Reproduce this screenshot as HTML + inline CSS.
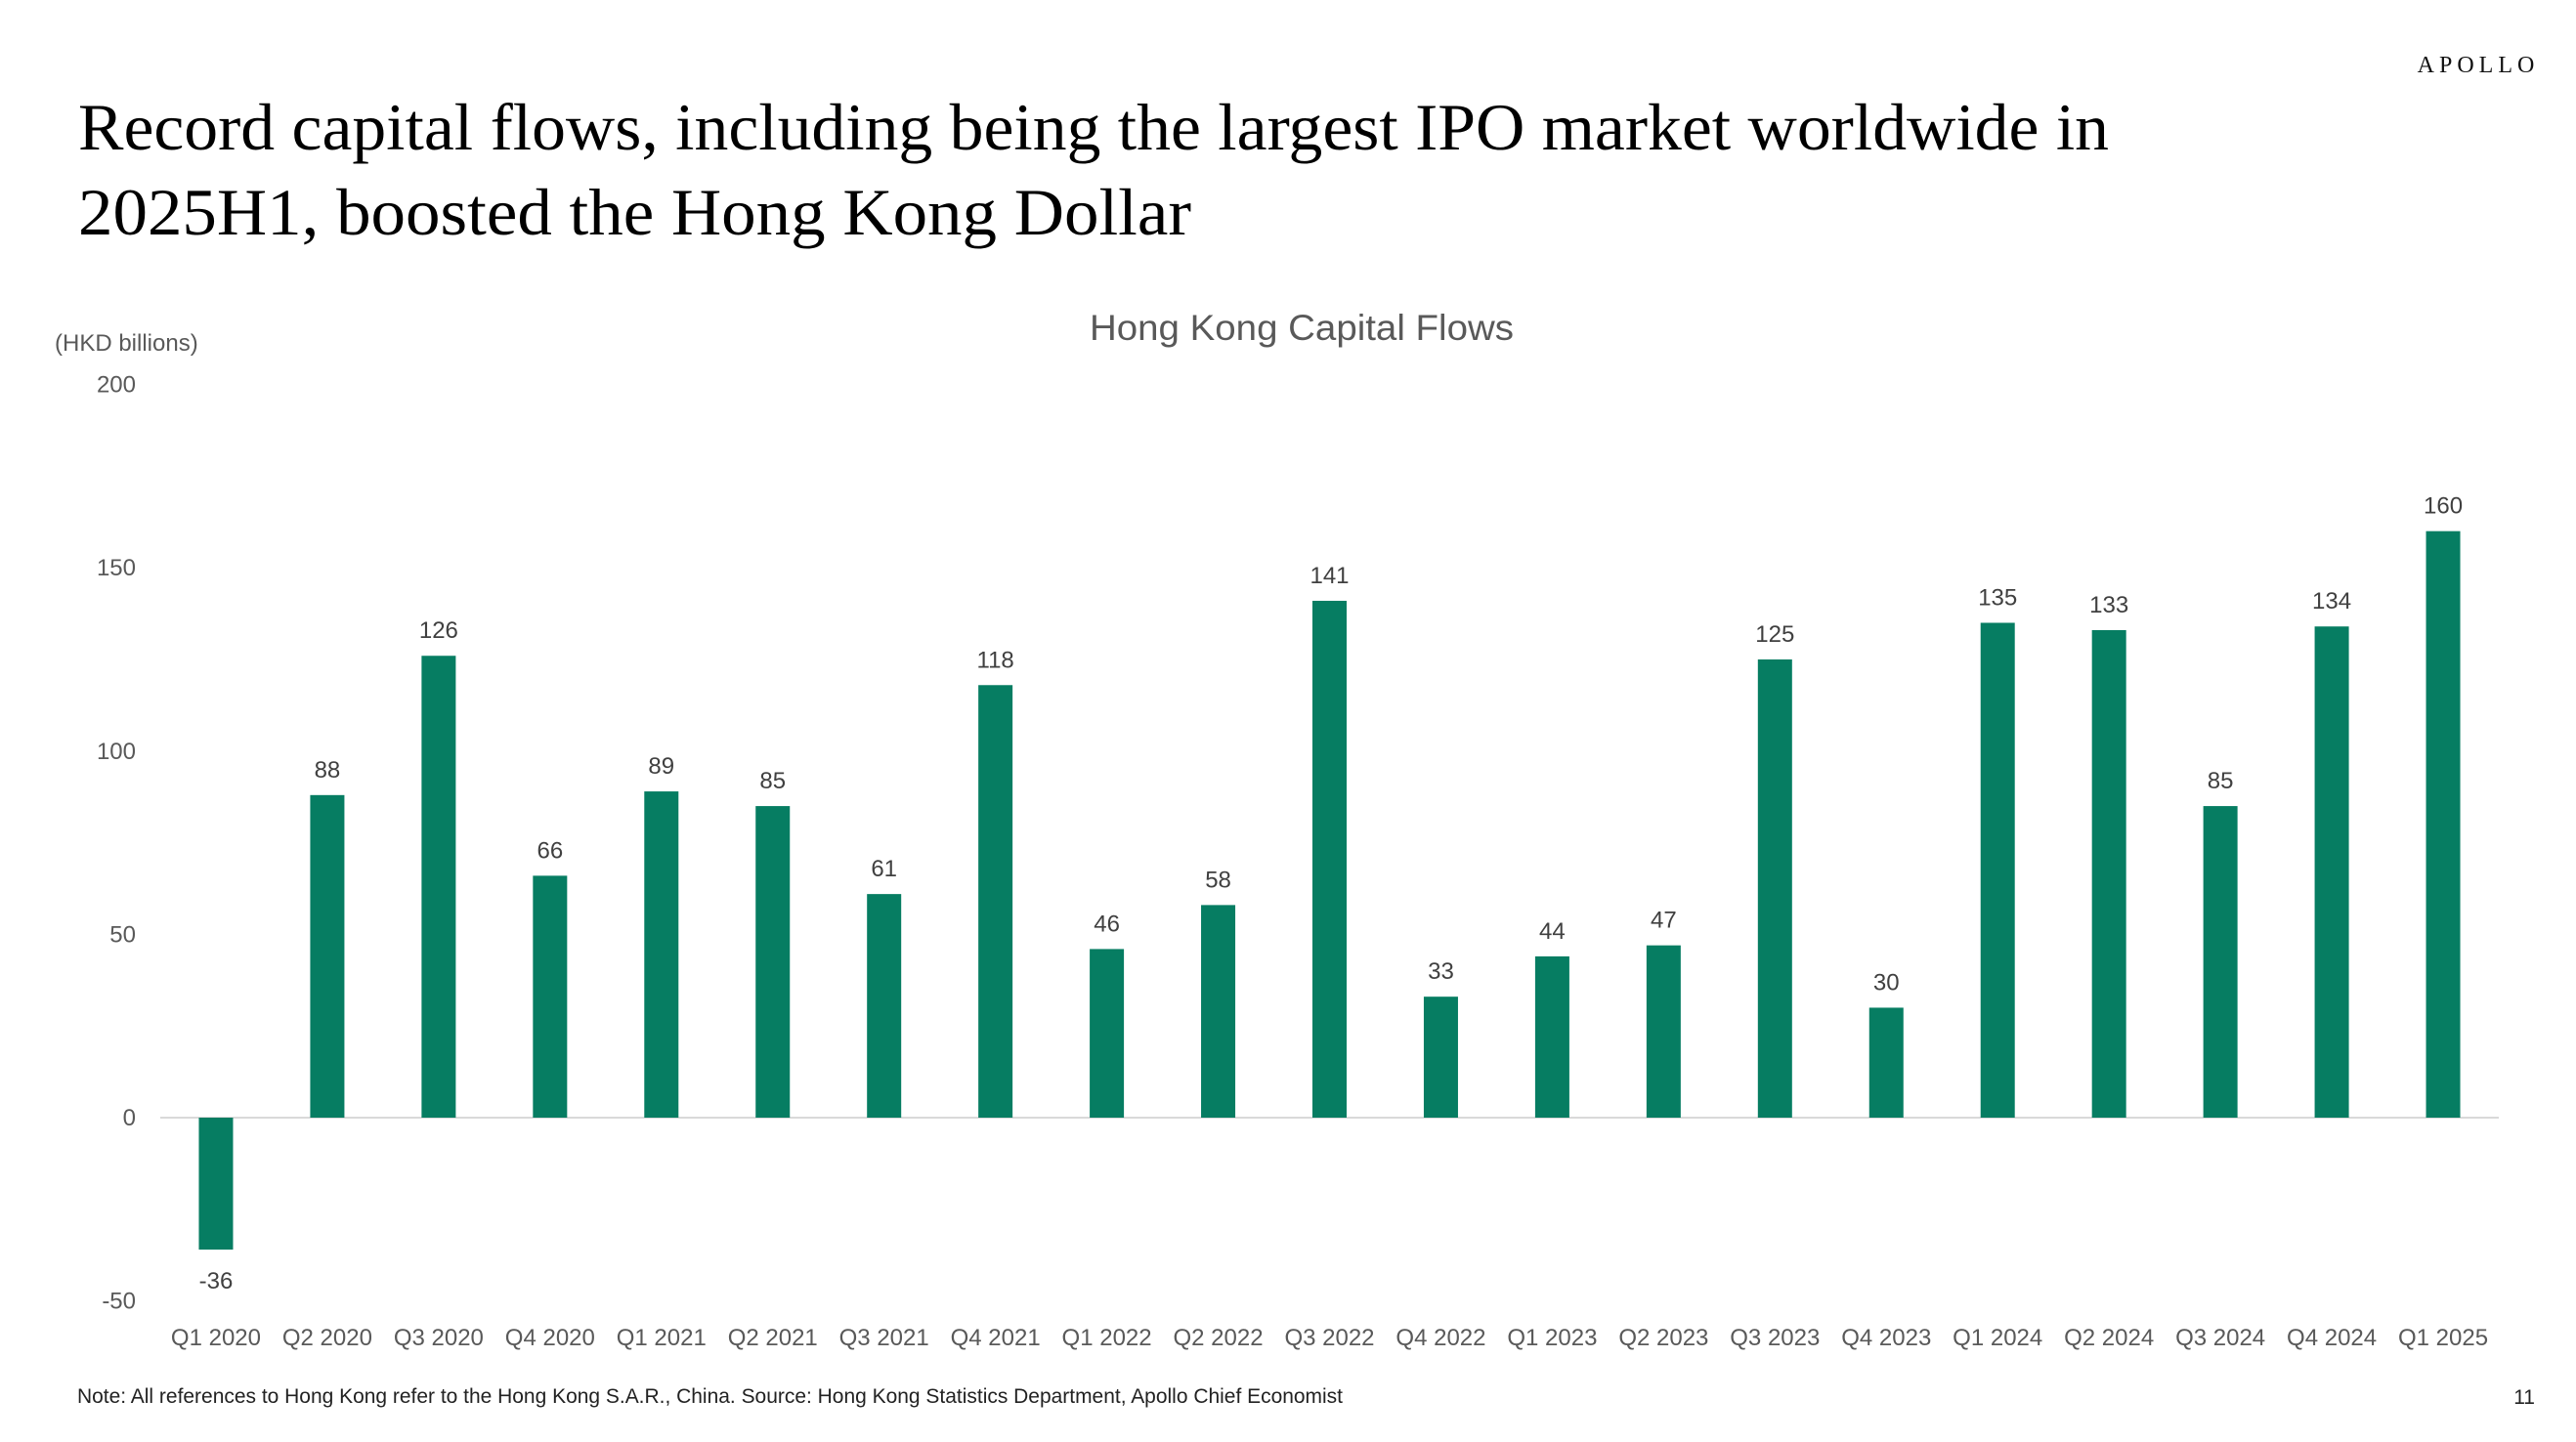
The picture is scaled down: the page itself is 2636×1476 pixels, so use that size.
<!DOCTYPE html>
<html><head><meta charset="utf-8"><style>
html,body{margin:0;padding:0;background:#fff;}
svg{display:block;}
</style></head><body>
<svg id="chart" width="2636" height="1476" xmlns="http://www.w3.org/2000/svg" font-family="'Liberation Sans', sans-serif">
<text x="2536" y="74" text-anchor="middle" font-family="'Liberation Serif', serif" font-size="24" letter-spacing="5" fill="#111">APOLLO</text>
<text x="80" y="153" font-family="'Liberation Serif', serif" font-size="68" fill="#000" textLength="2078" lengthAdjust="spacingAndGlyphs">Record capital flows, including being the largest IPO market worldwide in</text>
<text x="80" y="240" font-family="'Liberation Serif', serif" font-size="68" fill="#000" textLength="1139" lengthAdjust="spacingAndGlyphs">2025H1, boosted the Hong Kong Dollar</text>
<text x="1332" y="348" text-anchor="middle" font-size="37" fill="#595959" textLength="434" lengthAdjust="spacingAndGlyphs">Hong Kong Capital Flows</text>
<text x="56" y="359" font-size="24" fill="#595959">(HKD billions)</text>
<g id="yticks"></g>
<line x1="164" y1="1144" x2="2557" y2="1144" stroke="#d9d9d9" stroke-width="2"/>
<g id="bars"></g>
<g id="xlabels"></g>
<text x="79" y="1436" font-size="21" fill="#222" textLength="1295" lengthAdjust="spacingAndGlyphs">Note: All references to Hong Kong refer to the Hong Kong S.A.R., China. Source: Hong Kong Statistics Department, Apollo Chief Economist</text>
<text x="2594" y="1437" text-anchor="end" font-size="21" fill="#222">11</text>
</svg>
<script>
const categories = ["Q1 2020","Q2 2020","Q3 2020","Q4 2020","Q1 2021","Q2 2021","Q3 2021","Q4 2021","Q1 2022","Q2 2022","Q3 2022","Q4 2022","Q1 2023","Q2 2023","Q3 2023","Q4 2023","Q1 2024","Q2 2024","Q3 2024","Q4 2024","Q1 2025"];
const flows = [-36,88,126,66,89,85,61,118,46,58,141,33,44,47,125,30,135,133,85,134,160];
const yTicks = [-50,0,50,100,150,200];
const NS = "http://www.w3.org/2000/svg";
const plotLeft = 164, plotRight = 2557, zeroY = 1144, pxPerUnit = 187.6/50;
const step = (plotRight - plotLeft) / categories.length;
const barW = 35;
function y(v){ return zeroY - v * pxPerUnit; }
function xc(i){ return plotLeft + step * (i + 0.5); }
function mk(tag, attrs, text){ const e=document.createElementNS(NS,tag); for(const k in attrs) e.setAttribute(k,attrs[k]); if(text!==undefined) e.textContent=text; return e; }
const yg = document.getElementById('yticks');
yTicks.forEach(t=>{
  const e = mk('text',{x:139,y:y(t)+8,'text-anchor':'end','font-size':24,fill:'#595959'},String(t));
  
  
  yg.appendChild(e);
});
const bg = document.getElementById('bars');
const xg = document.getElementById('xlabels');
flows.forEach((v,i)=>{
  const top = Math.min(y(v), zeroY), h = Math.abs(y(v)-zeroY);
  const r = mk('rect',{x:xc(i)-barW/2,y:top,width:barW,height:h,fill:'#067d62'});
  
  
  bg.appendChild(r);
  const ly = v>=0 ? y(v)-18 : y(v)+40;
  const l = mk('text',{x:xc(i),y:ly,'text-anchor':'middle','font-size':24,fill:'#404040'},String(v));
  
  
  bg.appendChild(l);
  const c = mk('text',{x:xc(i),y:1377,'text-anchor':'middle','font-size':24,fill:'#595959'},categories[i]);
  
  
  xg.appendChild(c);
});
</script>
</body></html>
